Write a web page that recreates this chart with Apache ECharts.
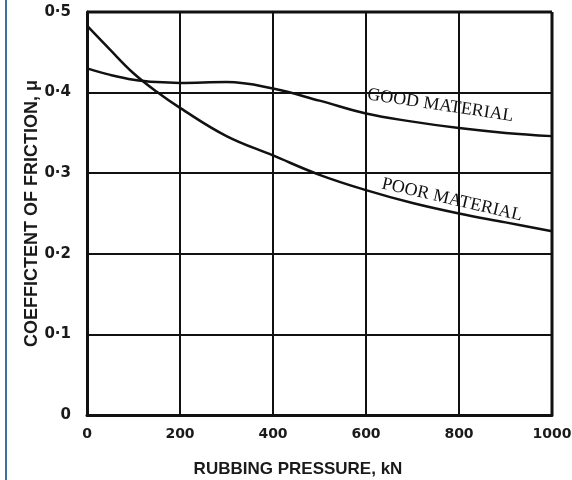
<!DOCTYPE html>
<html><head><meta charset="utf-8">
<script src="https://cdn.jsdelivr.net/npm/echarts@6/dist/echarts.min.js"></script>
<style>html,body{margin:0;padding:0;background:#fff}#c{width:572px;height:480px}</style>
</head><body><div id="c"></div>
<script>
var pressure = [0, 50, 100, 150, 200, 300, 400, 500, 600, 700, 800, 900, 1000];
var goodMaterial = [0.430, 0.422, 0.416, 0.413, 0.412, 0.413, 0.405, 0.390, 0.374, 0.364, 0.356, 0.350, 0.346];
var poorMaterial = [0.483, 0.453, 0.424, 0.401, 0.381, 0.346, 0.322, 0.298, 0.279, 0.263, 0.250, 0.239, 0.228];
var xTicks = [0, 200, 400, 600, 800, 1000];
var yTicks = [0, 0.1, 0.2, 0.3, 0.4, 0.5];
var curveLabels = [
  {name: 'GOOD MATERIAL', at: [760, 0.384], rotate: -8.5},
  {name: 'POOR MATERIAL', at: [785, 0.267], rotate: -13}
];

function pairs(xs, ys){ return xs.map(function(x,i){ return [x, ys[i]]; }); }

var chart = echarts.init(document.getElementById('c'), null, {renderer:'canvas'});
var curveLabelStyle = {show:true, position:'inside', fontFamily:'Liberation Serif', fontSize:18, color:'#111'};
function mk(i){
  return {symbol:'circle', symbolSize:0, silent:true,
    data:[{coord:curveLabels[i].at,
      label:Object.assign({formatter:curveLabels[i].name, rotate:curveLabels[i].rotate}, curveLabelStyle)}]};
}
chart.setOption({
  backgroundColor:'#fff',
  animation:false,
  grid:{left:87, right:20, top:12, bottom:65, outerBoundsMode:'none', containLabel:false},
  xAxis:{
    type:'value', min:xTicks[0], max:xTicks[xTicks.length-1], interval:200,
    name:'RUBBING PRESSURE, kN', nameLocation:'middle', nameGap:46, nameMoveOverlap:false,
    nameTextStyle:{fontFamily:'Liberation Sans', fontWeight:'bold', fontSize:17, color:'#1a1a1a', padding:[0,43,0,0]},
    axisLine:{show:true, onZero:false, lineStyle:{color:'#111', width:3}},
    axisTick:{show:false},
    axisLabel:{margin:12, fontFamily:'DejaVu Sans', fontWeight:'bold', fontSize:14, color:'#1a1a1a',
      formatter:function(v){ return String(v); }},
    splitLine:{show:true, lineStyle:{color:'#111', width:2}}
  },
  yAxis:{
    type:'value', min:yTicks[0], max:yTicks[yTicks.length-1], interval:0.1,
    name:'COEFFICTENT OF FRICTION, \u03bc', nameLocation:'middle', nameGap:46, nameRotate:90, nameMoveOverlap:false,
    nameTextStyle:{fontFamily:'Liberation Sans', fontWeight:'bold', fontSize:18, color:'#1a1a1a'},
    axisLine:{show:true, onZero:false, lineStyle:{color:'#111', width:3}},
    axisTick:{show:false},
    axisLabel:{margin:16, fontFamily:'DejaVu Sans', fontWeight:'bold', fontSize:15, color:'#1a1a1a',
      formatter:function(v){ return v===0 ? '0' : v.toFixed(1).replace('.', '\u00b7'); }},
    splitLine:{show:true, lineStyle:{color:'#111', width:2}}
  },
  graphic:[
    {type:'rect', left:5, top:0, shape:{width:2, height:480}, style:{fill:'#3f6f9f'}},
    {type:'line', shape:{x1:87, y1:12, x2:552, y2:12}, style:{stroke:'#111', lineWidth:3}},
    {type:'line', shape:{x1:552, y1:12, x2:552, y2:415}, style:{stroke:'#111', lineWidth:3}}
  ],
  series:[
    {type:'line', name:'GOOD MATERIAL', data:pairs(pressure, goodMaterial), smooth:0.4, symbol:'none',
     lineStyle:{color:'#111', width:2.5}, markPoint:mk(0)},
    {type:'line', name:'POOR MATERIAL', data:pairs(pressure, poorMaterial), smooth:0.4, symbol:'none',
     lineStyle:{color:'#111', width:2.5}, markPoint:mk(1)}
  ]
});
</script></body></html>
